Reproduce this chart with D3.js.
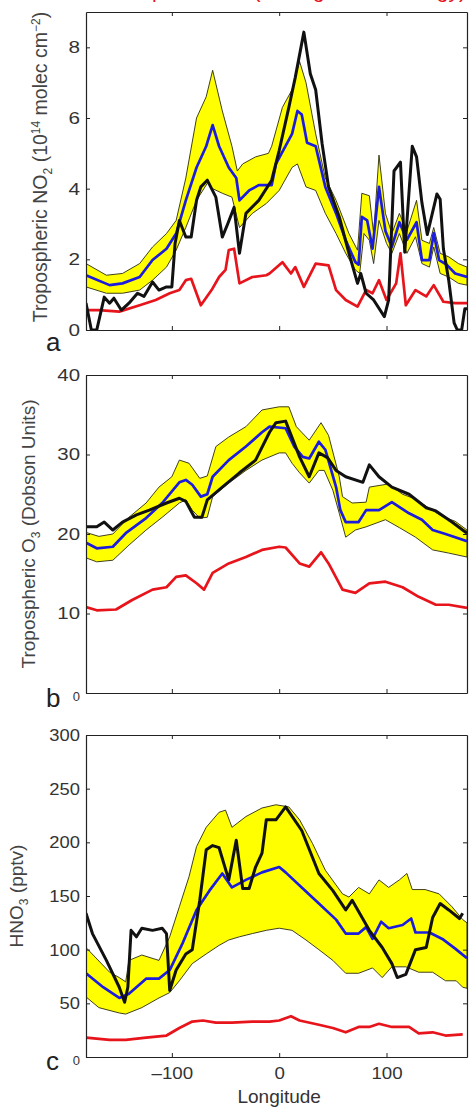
<!DOCTYPE html>
<html>
<head>
<meta charset="utf-8">
<title>Tropical NO2 / O3 / HNO3 vs longitude</title>
<script src="https://cdn.jsdelivr.net/npm/d3@7/dist/d3.min.js"></script>
<style>
	body { margin: 0; background: white; }
	svg { display: block; font-family: "Liberation Sans", Arial, sans-serif; }
	.tick text { fill: #333; }
	.axis path, .axis line { stroke: #222; }
	.ylab { fill: #444; }
	.letter { fill: #222; }
</style>
</head>
<body>
<div id="chart"></div>
<script>

	// ---- panel a: tropospheric NO2 (1e14 molec/cm2) ----
	var noHiLon = [-180,-161,-146,-130,-118,-105,-96,-87,-77,-68,-62,-53,-44,-39,-34,-22,-10,-7,3,12,19,25,34,43,53,65,73,77,84,88,93,99,105,112,119,128,133,140,144,150,158,167,175];
	var noHi    = [1.88,1.55,1.6,1.88,2.35,2.73,3.1,4.3,6.0,6.6,7.35,6.2,5.2,4.5,4.7,4.9,5.0,5.2,6.3,6.8,7.6,7.0,5.55,4.3,3.67,2.73,2.26,3.87,3.8,2.73,4.95,3.3,2.73,3.3,2.8,3.67,2.54,2.45,2.9,2.17,2.07,1.88,1.78];
	var noLoLon = [-180,-161,-146,-130,-118,-105,-96,-87,-77,-67,-62,-53,-44,-37,-25,-12,0,12,17,25,34,43,53,62,71,75,79,84,88,93,100,105,112,119,127,133,140,144,150,158,167,175];
	var noLo    = [1.22,1.04,1.04,1.13,1.41,1.78,2.26,2.9,3.67,4.15,4.0,3.87,3.76,2.9,3.3,3.58,3.95,4.6,4.7,4.05,3.95,3.3,2.73,2.17,1.7,1.6,2.73,2.54,1.88,3.1,2.45,2.17,2.73,2.17,2.64,1.88,1.78,2.35,1.6,1.5,1.32,1.27];
	var noMeanLon = [-180,-158,-146,-130,-118,-105,-96,-87,-77,-68,-62,-56,-47,-40,-37,-28,-19,-7,-3,12,17,21,26,34,43,53,62,71,74,77,82,87,93,99,105,112,119,128,133,140,144,149,156,164,175];
	var noMean    = [1.55,1.27,1.32,1.5,1.98,2.3,2.73,3.67,4.6,5.2,5.8,5.2,4.6,4.3,3.67,3.95,4.1,4.1,4.7,5.55,6.2,6.1,5.3,5.2,4.05,3.3,2.54,1.92,1.85,3.2,3.1,2.3,4.05,2.8,2.35,3.05,2.55,3.05,1.98,1.98,2.74,1.98,1.85,1.6,1.5];
	var noObsLon = [-180,-175,-170,-163,-158,-154,-147,-140,-132,-126,-118,-112,-105,-100,-97,-93,-87,-82,-77,-73,-67,-59,-53,-48,-42,-37,-31,-19,-7,0,9,15,23,29,34,40,46,56,65,73,76,81,88,98,102,107,113,117,124,128,133,138,147,150,153,158,163,166,170,173,175];
	var noObs    = [0.76,0,0,0.93,0.76,0.9,0.56,0.76,1.04,0.95,1.36,1.13,1.22,1.22,2.45,3.1,2.63,2.63,3.67,4.05,4.24,3.76,2.63,3.0,3.47,2.17,3.3,3.67,4.24,5.08,6.3,7.15,8.43,7.25,6.8,5.27,4.05,3.2,2.17,1.32,1.6,1.04,0.85,0.38,0.85,4.5,4.75,2.2,5.2,4.9,3.6,2.7,3.85,3.7,2.3,1.4,0.2,0,0,0.6,0.6];
	var noRedLon = [-180,-168,-149,-130,-115,-102,-93,-87,-82,-73,-63,-56,-50,-47,-42,-37,-25,-12,-9,3,11,15,23,34,46,53,62,73,81,87,93,100,109,113,118,127,137,144,153,164,175];
	var noRed    = [0.56,0.56,0.52,0.7,0.85,1.04,1.13,1.41,1.45,0.7,1.13,1.5,1.7,2.26,2.3,1.32,1.5,1.55,1.6,1.92,1.6,1.78,1.22,1.88,1.83,1.13,0.85,0.66,1.13,1.04,1.41,0.85,1.32,2.17,0.7,1.13,0.95,1.27,0.8,0.76,0.76];

	// ---- panel b: tropospheric O3 (DU) ----
	var oHiLon = [-180,-168,-155,-140,-124,-112,-100,-93,-84,-74,-67,-59,-47,-31,-16,0,9,16,28,39,46,56,59,68,81,84,102,115,127,140,152,164,175];
	var oHi    = [20.2,19.7,20.0,22.1,23.9,25.9,27.2,29.3,28.9,27.0,27.3,31.0,32.2,33.5,35.6,36.0,36.0,33.5,31.8,34.0,32.4,27.2,24.7,23.9,24.0,25.9,26.3,25.0,24.4,23.2,22.2,21.6,20.5];
	var oLoLon = [-180,-170,-155,-140,-124,-109,-93,-87,-81,-74,-67,-62,-47,-31,-16,0,6,12,19,28,37,42,50,56,62,71,81,99,112,127,143,158,175];
	var oLo    = [17.0,16.5,16.7,18.6,20.5,22.1,23.9,24.3,23.0,22.0,22.1,24.7,26.4,28.0,29.3,30.2,30.2,28.9,27.7,26.4,28.0,28.0,25.5,22.6,19.6,20.5,20.9,21.8,20.8,19.6,18.0,17.6,17.1];
	var oMeanLon = [-180,-170,-155,-143,-124,-109,-93,-87,-81,-73,-67,-62,-47,-31,-16,-9,6,14,22,28,37,43,53,57,62,74,81,93,105,121,133,143,155,175];
	var oMean    = [18.9,18.2,18.4,20.1,22.0,23.9,26.5,26.8,26.2,24.7,25.0,27.2,29.3,31.0,32.8,33.5,33.3,31.0,29.7,29.5,31.6,30.6,25.9,23.0,21.5,21.5,23.0,23.0,24.0,22.6,21.8,20.5,20.0,19.1];
	var oObsLon = [-180,-170,-163,-155,-146,-133,-121,-105,-93,-87,-79,-72,-67,-53,-37,-22,-9,-3,6,19,28,37,45,53,62,78,84,93,105,121,137,146,161,175];
	var oObs    = [20.9,20.9,21.5,20.5,21.5,22.4,23.0,23.9,24.5,24.1,22.1,22.1,24.3,25.9,27.7,29.3,32.8,34.0,34.2,29.7,27.2,30.2,29.6,28.0,27.2,26.5,28.7,27.2,25.9,25.0,23.3,22.9,21.5,20.1];
	var oRedLon = [-180,-170,-152,-137,-118,-105,-96,-87,-77,-70,-62,-47,-31,-16,0,6,19,28,39,46,59,71,84,99,115,130,146,158,175];
	var oRed    = [10.8,10.4,10.5,11.7,13.0,13.3,14.6,14.8,13.8,13.0,15.1,16.3,17.1,18.0,18.4,18.3,16.3,15.9,17.7,16.3,13.0,12.6,13.8,14.0,13.3,12.1,11.1,11.1,10.7];

	// ---- panel c: HNO3 (pptv) ----
	var hHiLon = [-180,-158,-149,-143,-140,-128,-112,-102,-93,-84,-77,-68,-56,-50,-44,-31,-16,-3,9,19,31,43,59,65,74,84,93,102,112,119,124,136,149,161,171,175];
	var hHi    = [102,79,74,70,90,95,90,112,140,168,196,214,228,230,214,224,232,235,233,221,199,174,152,149,158,152,165,158,165,171,156,156,152,140,128,125];
	var hLoLon = [-180,-168,-149,-143,-128,-112,-102,-93,-81,-68,-56,-47,-37,-25,-12,0,12,25,37,50,62,74,87,96,105,118,130,143,155,165,171,175];
	var hLo    = [56,46,41,40,46,55,60,71,87,96,104,109,112,115,118,120,118,109,100,90,78,78,83,74,84,84,79,79,71,71,65,64];
	var hMeanLon = [-180,-164,-149,-140,-124,-112,-102,-90,-77,-65,-53,-44,-31,-16,0,6,21,37,53,62,74,81,87,95,102,115,123,127,140,152,164,175];
	var hMean    = [78,65,55,59,73,73,81,106,137,155,171,158,165,172,177,172,158,143,128,115,115,121,110,126,120,123,129,116,116,110,101,92];
	var hObsLon = [-180,-174,-161,-149,-144,-141,-138,-133,-128,-118,-109,-105,-102,-96,-87,-81,-74,-68,-62,-56,-47,-40,-34,-28,-22,-16,-12,-3,6,21,37,50,62,68,84,96,105,110,118,127,137,143,150,158,168,171];
	var hObs    = [134,115,90,65,51,65,118,112,120,118,120,115,62,81,96,100,146,193,197,195,165,202,157,157,177,190,221,221,233,211,171,155,137,146,118,102,87,74,77,100,102,130,143,137,129,134];
	var hRedLon = [-180,-158,-143,-124,-105,-93,-81,-71,-59,-44,-25,-9,0,11,19,37,50,62,74,84,93,105,121,130,143,155,171];
	var hRed    = [18,16,16,18,20,27,33,34,32,32,33,33,34,38,34,30,27,23,28,28,31,28,28,22,23,20,21];

	var lonTicks = [-100, 0, 100];

	var width = 469, height = 1108,
		left = 86, right = 467;

	var panels = [
		{ top: 12, bottom: 330, max: 9, ticks: [0,2,4,6,8], stretch: 1.22,
		  hi: d3.zip(noHiLon, noHi), lo: d3.zip(noLoLon, noLo), mean: d3.zip(noMeanLon, noMean),
		  obs: d3.zip(noObsLon, noObs), red: d3.zip(noRedLon, noRed),
		  letter: "a", letterY: 351, labelX: 47, labelY: 167, labelSize: 19.5 },
		{ top: 375, bottom: 693, max: 40, ticks: [0,10,20,30,40], stretch: 1.2,
		  hi: d3.zip(oHiLon, oHi), lo: d3.zip(oLoLon, oLo), mean: d3.zip(oMeanLon, oMean),
		  obs: d3.zip(oObsLon, oObs), red: d3.zip(oRedLon, oRed),
		  letter: "b", letterY: 707, labelX: 35, labelY: 534, labelSize: 19 },
		{ top: 735, bottom: 1057, max: 300, ticks: [0,50,100,150,200,250,300], stretch: 1.08,
		  hi: d3.zip(hHiLon, hHi), lo: d3.zip(hLoLon, hLo), mean: d3.zip(hMeanLon, hMean),
		  obs: d3.zip(hObsLon, hObs), red: d3.zip(hRedLon, hRed),
		  letter: "c", letterY: 1070, labelX: 23, labelY: 896, labelSize: 19 }
	];

	var svg = d3.select("#chart").append("svg")
		.attr("width", width)
		.attr("height", height);

	// red title, mostly cut off above the picture (only descenders show)
	svg.append("text")
		.attr("x", 466).attr("y", -2.5)
		.attr("text-anchor", "end")
		.style("font-size", "21px")
		.style("fill", "#e8141b")
		.text("Tropical band (averaged climatology)");

	var x = d3.scaleLinear().domain([-180, 175]).range([left, right]);

	function stretch( sel, k ) {
		sel.each( function() {
			var w = this.getComputedTextLength();
			d3.select(this).attr("textLength", w * k).attr("lengthAdjust", "spacingAndGlyphs");
		} );
	}

	panels.forEach( function( p, i ) {
		var y = d3.scaleLinear().domain([0, p.max]).range([p.bottom, p.top]);
		var line = d3.line().x( d => x(d[0]) ).y( d => y(d[1]) );

		var g = svg.append("g");
		var clipId = "clip" + i;
		g.append("clipPath").attr("id", clipId)
			.append("rect")
				.attr("x", left).attr("y", p.top)
				.attr("width", right - left).attr("height", p.bottom - p.top);

		var plot = g.append("g").attr("clip-path", "url(#" + clipId + ")");

		// model range band
		plot.append("path")
			.attr("d", line( p.hi.concat( p.lo.slice().reverse() ) ) + "Z")
			.attr("fill", "#ffff00")
			.attr("stroke", "#2a2a10")
			.attr("stroke-width", 0.9)
			.attr("stroke-linejoin", "round");

		plot.append("path").attr("d", line(p.red))
			.attr("fill", "none").attr("stroke", "#e8141b").attr("stroke-width", 2.7)
			.attr("stroke-linejoin", "round");
		plot.append("path").attr("d", line(p.mean))
			.attr("fill", "none").attr("stroke", "#1c1ce0").attr("stroke-width", 2.7)
			.attr("stroke-linejoin", "round");
		plot.append("path").attr("d", line(p.obs))
			.attr("fill", "none").attr("stroke", "#111").attr("stroke-width", 3)
			.attr("stroke-linejoin", "round");

		// axes (MATLAB box with inward ticks)
		var yLeft = g.append("g").attr("class", "axis")
			.attr("transform", "translate(" + left + ",0)")
			.call( d3.axisLeft(y).tickValues(p.ticks).tickSize(-4).tickSizeOuter(0).tickPadding(6) );
		g.append("g").attr("class", "axis")
			.attr("transform", "translate(" + right + ",0)")
			.call( d3.axisRight(y).tickValues(p.ticks).tickSize(-4).tickSizeOuter(0).tickFormat("") );
		var xBottom = g.append("g").attr("class", "axis")
			.attr("transform", "translate(0," + p.bottom + ")")
			.call( d3.axisBottom(x).tickValues(lonTicks).tickSize(-4).tickSizeOuter(0)
				.tickFormat( i == 2 ? (d => d < 0 ? "\u2013" + (-d) : d) : "" ).tickPadding(10) );
		g.append("g").attr("class", "axis")
			.attr("transform", "translate(0," + p.top + ")")
			.call( d3.axisTop(x).tickValues(lonTicks).tickSize(-4).tickSizeOuter(0).tickFormat("") );

		g.selectAll(".axis path").attr("stroke-width", 1.2);
		g.selectAll(".axis line").attr("stroke-width", 1);

		yLeft.selectAll("text")
			.attr("font-size", 17).attr("font-family", null)
			.call( stretch, p.stretch );
		// zero label is smaller in panels b and c
		if( i > 0 ) {
			yLeft.selectAll(".tick").filter( d => d == 0 ).select("text")
				.attr("font-size", 13).attr("dy", "0.55em").attr("textLength", null);
		}
		xBottom.selectAll("text")
			.attr("font-size", 17).attr("font-family", null)
			.call( stretch, 1.1 );

		// panel letter
		g.append("text").attr("class", "letter")
			.attr("x", 46).attr("y", p.letterY)
			.style("font-size", "26px")
			.text(p.letter);
	} );

	// y-axis labels, rotated
	function ylabel( p, parts ) {
		var t = svg.append("text").attr("class", "ylab")
			.attr("transform", "translate(" + p.labelX + "," + p.labelY + ") rotate(-90)")
			.attr("text-anchor", "middle")
			.style("font-size", p.labelSize + "px");
		parts.forEach( function( s ) {
			t.append("tspan")
				.attr("dy", s[1])
				.style("font-size", s[2] ? s[2] + "px" : null)
				.text(s[0]);
		} );
	}

	var ls = 12;
	ylabel( panels[0], [["Tropospheric NO", 0], ["2", 5, ls], [" (10", -5], ["14", -7, ls], [" molec cm", 7], ["\u22122", -7, ls], [")", 7]] );
	ylabel( panels[1], [["Tropospheric O", 0], ["3", 5, ls], [" (Dobson Units)", -5]] );
	ylabel( panels[2], [["HNO", 0], ["3", 5, ls], [" (pptv)", -5]] );

	svg.append("text")
		.attr("x", x(0)).attr("y", 1103)
		.attr("text-anchor", "middle")
		.style("font-size", "19px")
		.style("fill", "#333")
		.text("Longitude");

</script>
</body>
</html>
